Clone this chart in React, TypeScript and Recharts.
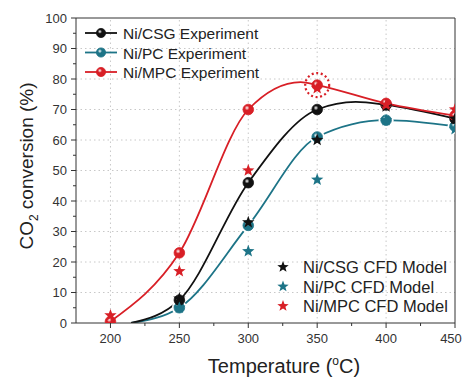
import { ComposedChart, Line, Scatter, XAxis, YAxis, ReferenceLine, ReferenceDot } from 'recharts'

// temperatures (°C)
const EXP_T = [250, 300, 350, 400, 450]
const MPC_EXP_T = [200, 250, 300, 350, 400, 450]

// experiment points (% CO2 conversion)
const CSG_EXP = [7.5, 46, 70, 71.5, 67]
const PC_EXP = [5, 32, 61, 66.5, 64.5]
const MPC_EXP = [0.5, 23, 70, 78, 72, 68]

// CFD model points
const CSG_CFD_T = [250, 300, 350, 400, 450]
const CSG_CFD = [8, 33, 60, 71, 67]
const PC_CFD_T = [250, 300, 350, 400, 450]
const PC_CFD = [5, 23.5, 47, 66.5, 63.5]
const MPC_CFD_T = [200, 250, 300, 350, 400, 450]
const MPC_CFD = [2.5, 17, 50, 77, 71.5, 70]

// fitted curves
const CSG_FIT_T = [215, 250, 300, 350, 378, 400, 450]
const CSG_FIT = [0, 7.5, 46, 70, 72.5, 71.5, 67]
const PC_FIT_T = [215, 250, 300, 350, 400, 450]
const PC_FIT = [0, 5, 32, 61, 66.5, 64.5]
const MPC_FIT_T = [200, 250, 300, 338, 350, 400, 450]
const MPC_FIT = [0.5, 23, 70, 79, 78, 72, 68]

const X_TICKS = [200, 225, 250, 275, 300, 325, 350, 375, 400, 425, 450]
const Y_TICKS = [0, 5, 10, 15, 20, 25, 30, 35, 40, 45, 50, 55, 60, 65, 70, 75, 80, 85, 90, 95, 100]
const X_GRID = [200, 250, 300, 350, 400]
const Y_GRID = [10, 20, 30, 40, 50, 60, 70, 80, 90]

const BLACK = '#111111'
const TEAL = '#1d7487'
const RED = '#d81f26'
const FONT = '"Liberation Sans", Arial, sans-serif'

const pts = (t: number[], v: number[]) => t.map((x, i) => ({ t: x, v: v[i] }))

const starPath = (cx: number, cy: number, R: number) => {
    const r = R * 0.42
    let d = ''
    for (let i = 0; i < 10; i++) {
        const a = -Math.PI / 2 + (i * Math.PI) / 5
        const rad = i % 2 === 0 ? R : r
        d += (i === 0 ? 'M' : 'L') + (cx + rad * Math.cos(a)).toFixed(2) + ',' + (cy + rad * Math.sin(a)).toFixed(2)
    }
    return d + 'Z'
}

const Star = ({ cx, cy, color }: any) => <path d={starPath(cx, cy, 6.5)} fill={color} />

const Ball = ({ cx, cy, id, color, halo }: any) => (
    <g>
        {halo && <circle cx={cx} cy={cy} r={7.5} fill="#fff" />}
        <circle cx={cx} cy={cy} r={5.3} fill={`url(#${id})`} stroke={color} strokeWidth={0.8} />
    </g>
)

const YTick = (props: any) => {
    const { x, y, payload } = props
    const major = payload.value % 10 === 0
    return (
        <g>
            <line x1={x} x2={x - (major ? 5 : 3)} y1={y} y2={y} stroke="#333" />
            {major && (
                <text x={x - 9} y={y} dy={4.5} textAnchor="end" fontSize={13} fill="#333" fontFamily={FONT}>
                    {payload.value}
                </text>
            )}
        </g>
    )
}

const XTick = (props: any) => {
    const { x, y, payload, index } = props
    const major = payload.value % 50 === 0
    // last label sits at the right edge, nudge it in so it is not clipped
    const last = index === X_TICKS.length - 1
    return (
        <g>
            <line x1={x} x2={x} y1={y} y2={y + (major ? 5 : 3)} stroke="#333" />
            {major && (
                <text x={last ? x - 4 : x} y={y + 20} textAnchor="middle" fontSize={13} fill="#333" fontFamily={FONT}>
                    {payload.value}
                </text>
            )}
        </g>
    )
}

const expLegend = [
    { name: 'Ni/CSG Experiment', color: BLACK, id: 'gBlack' },
    { name: 'Ni/PC Experiment', color: TEAL, id: 'gTeal' },
    { name: 'Ni/MPC Experiment', color: RED, id: 'gRed' },
]
const cfdLegend = [
    { name: 'Ni/CSG CFD Model', color: BLACK },
    { name: 'Ni/PC CFD Model', color: TEAL },
    { name: 'Ni/MPC CFD Model', color: RED },
]

const Grad = ({ id, color }: { id: string; color: string }) => (
    <radialGradient id={id} cx="0.38" cy="0.35" r="0.65">
        <stop offset="0%" stopColor="#ffffff" />
        <stop offset="35%" stopColor={color} />
        <stop offset="100%" stopColor={color} />
    </radialGradient>
)

export default function App() {
    return (
        <div style={{ position: 'absolute', left: 0, top: 0, width: 462, height: 379, background: '#fff', overflow: 'hidden' }}>
            <ComposedChart width={462} height={379} margin={{ top: 18, right: 7, left: 0, bottom: 0 }}>
                <defs>
                    <Grad id="gBlack" color={BLACK} />
                    <Grad id="gTeal" color={TEAL} />
                    <Grad id="gRed" color={RED} />
                </defs>
                <XAxis
                    type="number"
                    dataKey="t"
                    domain={[175, 450]}
                    ticks={X_TICKS}
                    interval={0}
                    height={56}
                    tickSize={0}
                    tickMargin={0}
                    tickLine={false}
                    tick={<XTick />}
                    axisLine={{ stroke: '#333' }}
                    allowDataOverflow
                />
                <YAxis
                    type="number"
                    domain={[0, 100]}
                    ticks={Y_TICKS}
                    interval={0}
                    width={76}
                    tickSize={0}
                    tickMargin={0}
                    tickLine={false}
                    tick={<YTick />}
                    axisLine={{ stroke: '#333' }}
                    allowDataOverflow
                />
                {Y_GRID.map(v => (
                    <ReferenceLine key={'gy' + v} y={v} stroke="#c8c8c8" strokeDasharray="1.5 3" />
                ))}
                {X_GRID.map(v => (
                    <ReferenceLine key={'gx' + v} x={v} stroke="#c8c8c8" strokeDasharray="1.5 3" />
                ))}
                <ReferenceLine y={100} stroke="#333" />
                <ReferenceLine x={450} stroke="#333" />

                <Line data={pts(PC_FIT_T, PC_FIT)} dataKey="v" type="monotone" stroke={TEAL} strokeWidth={1.8} dot={false} activeDot={false} isAnimationActive={false} />
                <Line data={pts(CSG_FIT_T, CSG_FIT)} dataKey="v" type="monotone" stroke={BLACK} strokeWidth={1.8} dot={false} activeDot={false} isAnimationActive={false} />
                <Line data={pts(MPC_FIT_T, MPC_FIT)} dataKey="v" type="monotone" stroke={RED} strokeWidth={1.8} dot={false} activeDot={false} isAnimationActive={false} />

                <Scatter data={pts(EXP_T, PC_EXP)} dataKey="v" isAnimationActive={false} shape={(p: any) => <Ball {...p} id="gTeal" color={TEAL} halo />} />
                <Scatter data={pts(EXP_T, CSG_EXP)} dataKey="v" isAnimationActive={false} shape={(p: any) => <Ball {...p} id="gBlack" color={BLACK} />} />
                <Scatter data={pts(MPC_EXP_T, MPC_EXP)} dataKey="v" isAnimationActive={false} shape={(p: any) => <Ball {...p} id="gRed" color={RED} />} />

                <Scatter data={pts(PC_CFD_T, PC_CFD)} dataKey="v" isAnimationActive={false} shape={(p: any) => <Star {...p} color={TEAL} />} />
                <Scatter data={pts(CSG_CFD_T, CSG_CFD)} dataKey="v" isAnimationActive={false} shape={(p: any) => <Star {...p} color={BLACK} />} />
                <Scatter data={pts(MPC_CFD_T, MPC_CFD)} dataKey="v" isAnimationActive={false} shape={(p: any) => <Star {...p} color={RED} />} />

                <ReferenceDot x={350} y={78} r={12} fill="none" stroke={RED} strokeWidth={2.2} strokeDasharray="2 2.6" />
            </ComposedChart>

            <svg width={462} height={379} style={{ position: 'absolute', left: 0, top: 0, pointerEvents: 'none' }}>
                <defs>
                    <Grad id="lgBlack" color={BLACK} />
                    <Grad id="lgTeal" color={TEAL} />
                    <Grad id="lgRed" color={RED} />
                </defs>
                {expLegend.map((d, i) => {
                    const y = 33 + i * 19.5
                    return (
                        <g key={d.name}>
                            <line x1={85} x2={117} y1={y} y2={y} stroke={d.color} strokeWidth={1.8} />
                            <circle cx={101} cy={y} r={4.6} fill={`url(#l${d.id})`} stroke={d.color} strokeWidth={0.8} />
                            <text x={123} y={y + 6} fontSize={15.5} fill="#222" fontFamily={FONT}>{d.name}</text>
                        </g>
                    )
                })}
                {cfdLegend.map((d, i) => {
                    const y = 267 + i * 19.5
                    return (
                        <g key={d.name}>
                            <path d={starPath(283, y, 6)} fill={d.color} />
                            <text x={303} y={y + 6} fontSize={16.5} fill="#222" fontFamily={FONT}>{d.name}</text>
                        </g>
                    )
                })}
                <text transform="translate(33,166) rotate(-90)" textAnchor="middle" fontSize={19} fill="#222" fontFamily={FONT}>
                    CO<tspan fontSize={12} dy={5}>2</tspan><tspan dy={-5}> conversion (%)</tspan>
                </text>
                <text x={284} y={373} textAnchor="middle" fontSize={20} fill="#222" fontFamily={FONT}>
                    Temperature (<tspan fontSize={12} dy={-8}>o</tspan><tspan dy={8}>C)</tspan>
                </text>
            </svg>
        </div>
    )
}
